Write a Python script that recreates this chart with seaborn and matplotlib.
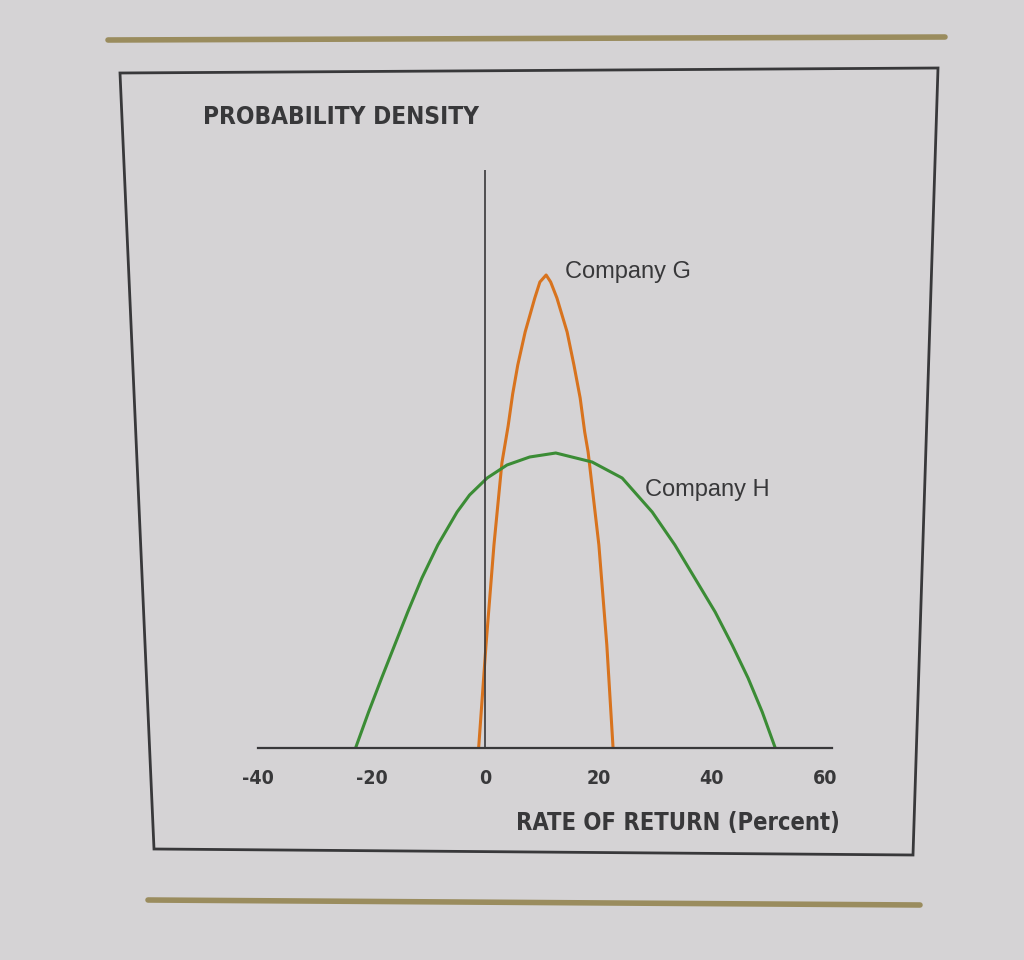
import matplotlib
matplotlib.use("Agg")
import matplotlib.pyplot as plt
from matplotlib.patches import Polygon
import pandas as pd
import seaborn as sns

# values (density in arbitrary units, no y scale shown)
g_return = [-1.1, 0.2, 1.6, 3.0, 4.1, 4.9, 5.8, 7.1, 8.8, 9.7, 10.8, 11.6, 12.7, 14.5, 15.7,
            16.8, 17.6, 18.2, 20.1, 21.5, 22.6]
g_density = [0, 103, 203, 285, 322, 354, 383, 416, 450, 466, 473, 466, 450, 416, 383,
             350, 316, 296, 203, 103, 0]
h_return = [-22.8, -20.5, -18.2, -15.9, -13.6, -11.1, -8.3, -4.9, -2.7, 0.4, 3.9, 7.9, 12.5,
            18.9, 24.2, 29.5, 33.5, 37.0, 40.6, 43.6, 46.4, 48.9, 51.2]
h_density = [0, 36, 70, 103, 136, 170, 203, 236, 253, 270, 283, 291, 295,
             286, 270, 236, 203, 170, 136, 103, 70, 36, 0]
x_ticks = [-40, -20, 0, 20, 40, 60]
tick_labels = ["-40", "-20", "0", "20", "40", "60"]

df = pd.concat([
    pd.DataFrame({"ret": g_return, "dens": [v / 10000 for v in g_density], "company": "Company G"}),
    pd.DataFrame({"ret": h_return, "dens": [v / 10000 for v in h_density], "company": "Company H"}),
])

bg = "#d5d3d5"
ink = "#38383a"

sns.set_style("white")
plt.rcParams["font.family"] = ["Liberation Sans", "DejaVu Sans"]

fig = plt.figure(figsize=(10.24, 9.6), dpi=100, facecolor=bg)
ax = fig.add_axes([258 / 1024, 1 - 748 / 960, (832 - 258) / 1024, 578 / 960])
ax.set_facecolor("none")

sns.lineplot(data=df, x="ret", y="dens", hue="company", estimator=None, sort=False,
             palette={"Company G": "#d8731e", "Company H": "#3b8c35"},
             linewidth=2.2, legend=False, ax=ax)

ax.set_xlim(-40.0, 61.2)
ax.set_ylim(0, 0.0578)
ax.axvline(0, color=ink, lw=1.2)
for s in ["top", "right", "left"]:
    ax.spines[s].set_visible(False)
ax.spines["bottom"].set_color(ink)
ax.spines["bottom"].set_linewidth(1.6)
ax.set_yticks([])
ax.set_xticks(x_ticks)
ax.set_xticklabels(tick_labels, fontsize=14, fontweight="bold", color=ink,
                   family="DejaVu Sans", fontstretch="condensed")
ax.tick_params(axis="x", length=0, pad=15)
ax.set_xlabel("")
ax.set_ylabel("")

ax.text(14.1, 0.0476, "Company G", fontsize=17, color=ink, va="center", ha="left")
ax.text(28.2, 0.0258, "Company H", fontsize=17, color=ink, va="center", ha="left")

fig.text(203 / 1024, 1 - 117 / 960, "PROBABILITY DENSITY", fontsize=17.5, fontweight="bold",
         color=ink, family="DejaVu Sans", fontstretch="condensed", va="center", ha="left")
fig.text(840 / 1024, 1 - 823 / 960, "RATE OF RETURN (Percent)", fontsize=17, fontweight="bold",
         color=ink, family="DejaVu Sans", fontstretch="condensed", va="center", ha="right")

# outer frame (photographed at a slight angle) and the two rules
W, H = 1024, 960
corners = [(120, 73), (938, 68), (913, 855), (154, 849)]
fig.patches.append(Polygon([(x / W, 1 - y / H) for x, y in corners], closed=True, fill=False,
                           edgecolor=ink, lw=2.0, transform=fig.transFigure))
fig.lines.append(plt.Line2D([108 / W, 945 / W], [1 - 40 / H, 1 - 37 / H], color="#9a8c5e", lw=4,
                            transform=fig.transFigure))
fig.lines.append(plt.Line2D([148 / W, 920 / W], [1 - 900 / H, 1 - 905 / H], color="#9a8c5e", lw=4,
                            transform=fig.transFigure))

fig.savefig("out.png", dpi=100, facecolor=bg)
